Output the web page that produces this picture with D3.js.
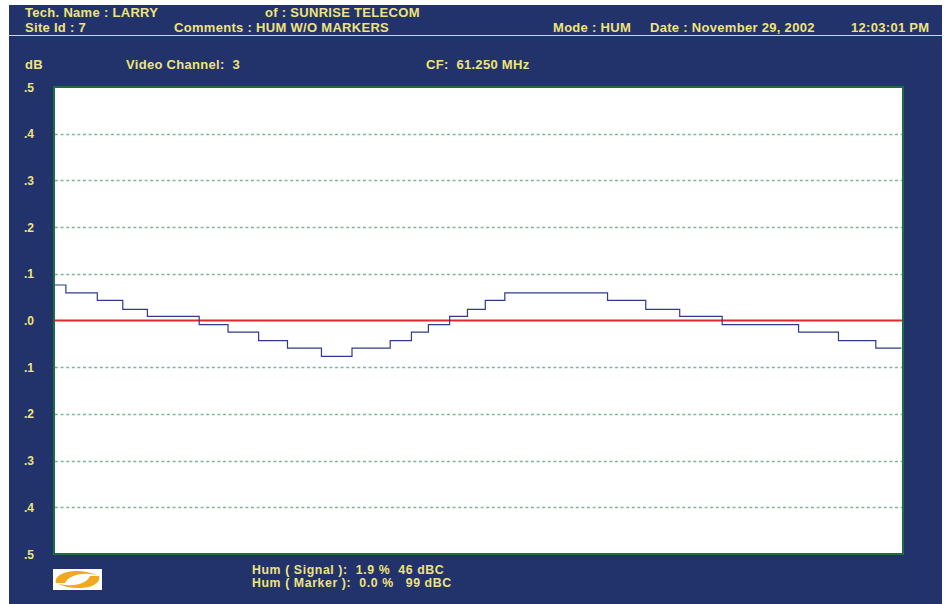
<!DOCTYPE html>
<html>
<head>
<meta charset="utf-8">
<script src="https://cdn.jsdelivr.net/npm/d3@7"></script>
<style>
  html, body { margin: 0; padding: 0; background: #fff; }
  svg { display: block; }
  text { font-family: "Liberation Sans", Arial, sans-serif; font-weight: bold; fill: #efe47c; }
</style>
</head>
<body>
<svg id="chart" width="946" height="604"></svg>
<script>
// hum trace, sweep position (% of screen) where each step begins and its level in dB
const stepPos = [0, 1.4, 5.1, 8.1, 11.0, 17.1, 20.5, 24.1, 27.5, 31.5, 35.1, 39.6, 42.1, 44.1, 46.6,
  48.7, 50.8, 53.1, 65.2, 69.7, 73.7, 78.7, 87.7, 92.4, 96.8, 99.8]
const stepDb = [0.076, 0.059, 0.043, 0.024, 0.009, -0.009, -0.025, -0.043, -0.059, -0.077, -0.059,
  -0.043, -0.025, -0.009, 0.009, 0.024, 0.043, 0.059, 0.043, 0.024, 0.009, -0.009, -0.025, -0.043, -0.059, -0.059]

const yTicks = [0.5, 0.4, 0.3, 0.2, 0.1, 0, -0.1, -0.2, -0.3, -0.4, -0.5]
const yTickLabels = ['.5', '.4', '.3', '.2', '.1', '.0', '.1', '.2', '.3', '.4', '.5']

const headerTexts = [
  { t: 'Tech. Name : LARRY', x: 25, y: 17 },
  { t: 'of : SUNRISE TELECOM', x: 265, y: 17 },
  { t: 'Site Id : 7', x: 25, y: 32 },
  { t: 'Comments : HUM W/O MARKERS', x: 174, y: 32 },
  { t: 'Mode : HUM', x: 553, y: 32 },
  { t: 'Date : November 29, 2002', x: 650, y: 32 },
  { t: '12:03:01 PM', x: 851, y: 32 },
  { t: 'dB', x: 25, y: 69 },
  { t: 'Video Channel:  3', x: 126, y: 69 },
  { t: 'CF:  61.250 MHz', x: 426, y: 69 }
]
const footerTexts = [
  { t: 'Hum ( Signal ):  1.9 %  46 dBC', x: 252, y: 574 },
  { t: 'Hum ( Marker ):  0.0 %   99 dBC', x: 252, y: 587 }
]

const svg = d3.select('#chart')

// navy panel
svg.append('rect').attr('x', 9).attr('y', 5).attr('width', 933).attr('height', 599).attr('fill', '#22326a')
svg.append('line').attr('x1', 9).attr('x2', 942).attr('y1', 35.5).attr('y2', 35.5)
  .attr('stroke', '#e6dc8a').attr('stroke-width', 1)

svg.selectAll('text.hdr')
  .data(headerTexts)
  .enter()
  .append('text')
  .attr('class', 'hdr')
  .attr('x', d => d.x)
  .attr('y', d => d.y)
  .attr('font-size', 13)
  .attr('letter-spacing', 0.3)
  .attr('xml:space', 'preserve')
  .text(d => d.t)

svg.selectAll('text.ftr')
  .data(footerTexts)
  .enter()
  .append('text')
  .attr('class', 'ftr')
  .attr('x', d => d.x)
  .attr('y', d => d.y)
  .attr('font-size', 12.3)
  .attr('letter-spacing', 0.6)
  .attr('xml:space', 'preserve')
  .text(d => d.t)

const x = d3.scaleLinear().domain([0, 100]).range([54, 903])
const y = d3.scaleLinear().domain([-0.5, 0.5]).range([554, 87])

// plot area
svg.append('rect').attr('x', 54).attr('y', 87).attr('width', 849).attr('height', 467)
  .attr('fill', '#fff')

// grid
svg.selectAll('line.grid')
  .data(yTicks.filter(v => Math.abs(v) < 0.5 && v !== 0))
  .enter()
  .append('line')
  .attr('class', 'grid')
  .attr('x1', 55).attr('x2', 902)
  .attr('y1', d => Math.round(y(d)) + 0.5)
  .attr('y2', d => Math.round(y(d)) + 0.5)
  .attr('stroke', '#7cb898')
  .attr('stroke-width', 1.3)
  .attr('stroke-dasharray', '3,2.6')

// y labels
svg.selectAll('text.ylab')
  .data(yTicks)
  .enter()
  .append('text')
  .attr('class', 'ylab')
  .attr('x', 34)
  .attr('y', d => y(d) + 4.5)
  .attr('text-anchor', 'end')
  .attr('font-size', 12)
  .text((d, i) => yTickLabels[i])

// zero reference
svg.append('line').attr('x1', 54).attr('x2', 903).attr('y1', y(0)).attr('y2', y(0))
  .attr('stroke', '#e3262b').attr('stroke-width', 2)

// trace
const pts = stepPos.map((p, i) => [p, stepDb[i]])
const line = d3.line()
  .x(d => x(d[0]))
  .y(d => y(d[1]))
  .curve(d3.curveStepAfter)

svg.append('path')
  .datum(pts)
  .attr('d', line)
  .attr('fill', 'none')
  .attr('stroke', '#2f3a8e')
  .attr('stroke-width', 1.2)

// frame
svg.append('rect').attr('x', 54).attr('y', 87).attr('width', 849).attr('height', 467)
  .attr('fill', 'none').attr('stroke', '#1b6e3e').attr('stroke-width', 2)

// logo
const logo = svg.append('g')
logo.append('rect').attr('x', 53).attr('y', 569).attr('width', 49).attr('height', 21).attr('fill', '#fff')
logo.append('path')
  .attr('d', 'M56,583 C53,572 78,566 99,576 C88,572 70,573 65,583 Z')
  .attr('fill', '#f0a81e')
logo.append('path')
  .attr('d', 'M99,576 C102,587 77,593 56,583 C67,587 86,586 90,576 Z')
  .attr('fill', '#f0a81e')
</script>
</body>
</html>
